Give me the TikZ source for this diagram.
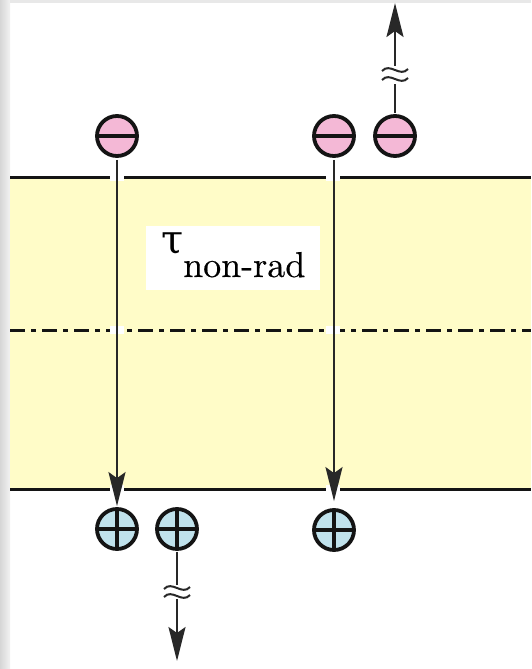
\documentclass[tikz,border=0pt]{standalone}
\usepackage{fontspec}
\newfontfamily\greekserif{DejaVu Serif}
\newfontfamily\subserif{lmroman10-regular.otf}[FakeBold=0.4]
\usetikzlibrary{arrows.meta}

\definecolor{bandfill}{RGB}{255,252,200}
\definecolor{pinkfill}{RGB}{244,184,214}
\definecolor{bluefill}{RGB}{192,226,236}
\definecolor{inkdark}{RGB}{20,20,20}
\definecolor{shaftgrey}{RGB}{40,40,40}

\tikzset{
  carrier/.style={circle, draw=inkdark, line width=3.8pt, minimum size=40pt, inner sep=0pt},
  electron/.style={carrier, fill=pinkfill,
    path picture={\draw[line width=4.2pt, draw=inkdark]
      (path picture bounding box.west) -- (path picture bounding box.east);}},
  hole/.style={carrier, fill=bluefill,
    path picture={\draw[line width=4.2pt, draw=inkdark]
      (path picture bounding box.west) -- (path picture bounding box.east)
      (path picture bounding box.north) -- (path picture bounding box.south);}},
  shaft/.style={draw=shaftgrey, line width=2.2pt},
  arr/.style={shaft, -{Stealth[length=34pt, width=17pt, inset=6pt]}},
  breakmark/.style={draw=shaftgrey, line width=2pt},
  bandline/.style={draw=inkdark, line width=3pt},
  gap/.style={fill=white},
}

\begin{document}
\begin{tikzpicture}[x=1pt, y=-1pt]
  \useasboundingbox (0,0) rectangle (531,669);
  \fill[white] (0,0) rectangle (531,669);
  % page edge shading
  \fill[left color=black!16, right color=black!5] (0,0) rectangle (10,669);
  \fill[black!9] (10,0) rectangle (531,3);

  % active layer
  \fill[bandfill] (10,177) rectangle (531,489);
  \draw[bandline] (10,177) -- (531,177);
  \draw[bandline] (10,489) -- (531,489);
  \draw[draw=inkdark, line width=3pt, dash pattern=on 15pt off 6pt on 5pt off 6pt] (10,330) -- (531,330);

  % breaks in the lines where the arrows pass
  \foreach \xx in {117,333} {
    \foreach \yy in {177,330,489} {
      \fill[gap] (\xx-7,\yy-4) rectangle (\xx+7,\yy+4);
    }
  }

  % lifetime label
  \node[fill=white, minimum width=174pt, minimum height=64pt, inner sep=0pt] (lbl) at (233,258) {};
  \node[anchor=base west, inner sep=0pt, font=\greekserif\fontsize{40}{40}\selectfont] (tau) at (161,253) {τ};
  \node[anchor=base west, inner sep=0pt, font=\subserif\bfseries\fontsize{36}{36}\selectfont] (sub) at (183,277) {non-rad};

  % carriers
  \node[electron] (m1) at (117,136) {};
  \node[electron] (m2) at (334,136) {};
  \node[electron] (m3) at (395,136) {};
  \node[hole] (p1) at (117,529) {};
  \node[hole] (p2) at (177,529) {};
  \node[hole] (p3) at (334,530) {};

  % recombination arrows
  \draw[arr, shorten <=2pt, shorten >=1pt] (m1) -- (p1);
  \draw[arr, shorten <=2pt, shorten >=7pt] (m2) -- (p3);

  % escaping electron
  \coordinate (u1) at (395,84);
  \coordinate (u2) at (395,66);
  \coordinate (utip) at (395,3);
  \draw[shaft, shorten <=1pt] (m3) -- (u1);
  \draw[arr] (u2) -- (utip);
  \foreach \yy in {70,79} {
    \draw[breakmark] (382,\yy+1) .. controls (390,\yy-8) and (400,\yy+8) .. (408,\yy-1);
  }

  % escaping hole
  \coordinate (d1) at (177,585);
  \coordinate (d2) at (177,599);
  \coordinate (dtip) at (177,661);
  \draw[shaft, shorten <=1pt] (p2) -- (d1);
  \draw[arr] (d2) -- (dtip);
  \foreach \yy in {588,596} {
    \draw[breakmark] (164,\yy+1) .. controls (172,\yy-8) and (182,\yy+8) .. (190,\yy-1);
  }
\end{tikzpicture}
\end{document}
